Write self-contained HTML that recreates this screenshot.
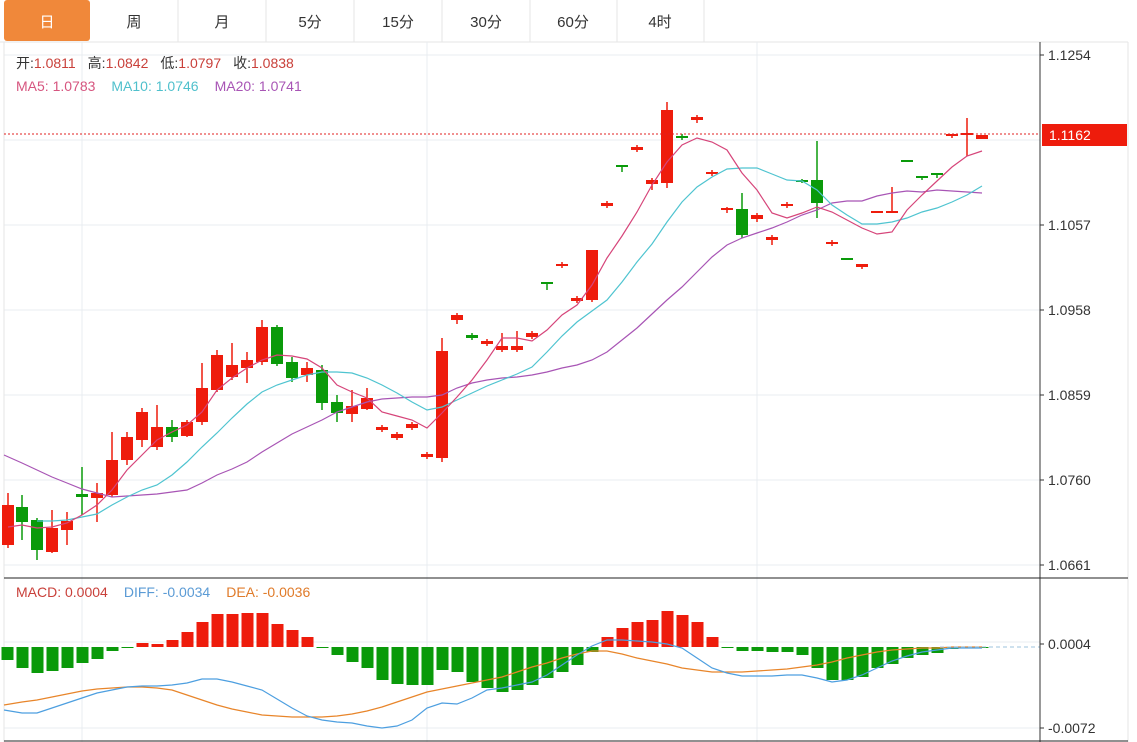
<!DOCTYPE html>
<html><head><meta charset="utf-8"><style>
body{margin:0;width:1137px;height:742px;overflow:hidden;background:#fff;font-family:"Liberation Sans","Noto Sans CJK SC",sans-serif}
svg{position:absolute;left:0;top:0}
</style></head><body>
<svg id="s" width="1137" height="742" xmlns="http://www.w3.org/2000/svg" font-family="Liberation Sans, Noto Sans CJK SC, sans-serif">
<rect x="0" y="0" width="1137" height="742" fill="#fff"/>
<line x1="0" y1="42" x2="1128" y2="42" stroke="#e6e6e6"/>
<rect x="4" y="0" width="86" height="41" rx="3" fill="#f0883a"/>
<g stroke="#e6e6e6"><line x1="178" y1="0" x2="178" y2="42"/><line x1="266" y1="0" x2="266" y2="42"/><line x1="354" y1="0" x2="354" y2="42"/><line x1="442" y1="0" x2="442" y2="42"/><line x1="530" y1="0" x2="530" y2="42"/><line x1="617" y1="0" x2="617" y2="42"/><line x1="704" y1="0" x2="704" y2="42"/><line x1="1128" y1="42" x2="1128" y2="742"/></g>
<g font-size="15" fill="#333" text-anchor="middle">
<text x="47" y="27" fill="#fff">日</text><text x="134" y="27">周</text><text x="222" y="27">月</text><text x="310" y="27">5分</text><text x="398" y="27">15分</text><text x="486" y="27">30分</text><text x="573" y="27">60分</text><text x="660" y="27">4时</text></g>
<g stroke="#e8ecf0" stroke-width="1">
<line x1="4" y1="55" x2="1040" y2="55"/><line x1="4" y1="140" x2="1040" y2="140"/><line x1="4" y1="225" x2="1040" y2="225"/><line x1="4" y1="310" x2="1040" y2="310"/><line x1="4" y1="395" x2="1040" y2="395"/><line x1="4" y1="480" x2="1040" y2="480"/><line x1="4" y1="565" x2="1040" y2="565"/>
<line x1="4" y1="642" x2="1040" y2="642"/><line x1="4" y1="728" x2="1040" y2="728"/>
<line x1="82" y1="42" x2="82" y2="742"/><line x1="427" y1="42" x2="427" y2="742"/><line x1="757" y1="42" x2="757" y2="742"/>
</g>
<line x1="4" y1="42" x2="4" y2="742" stroke="#e6e6e6"/>
<g id="g"></g>
<line x1="4" y1="134" x2="1040" y2="134" stroke="#e02020" stroke-dasharray="2,2"/>
<line x1="940" y1="647" x2="1040" y2="647" stroke="#9cc3de" stroke-dasharray="4,3"/>
<line x1="1040" y1="42" x2="1040" y2="742" stroke="#333"/>
<line x1="4" y1="578" x2="1128" y2="578" stroke="#222"/>
<line x1="4" y1="741" x2="1128" y2="741" stroke="#222"/>
<g stroke="#333"><line x1="1040" y1="55" x2="1044" y2="55"/><line x1="1040" y1="225" x2="1044" y2="225"/><line x1="1040" y1="310" x2="1044" y2="310"/><line x1="1040" y1="395" x2="1044" y2="395"/><line x1="1040" y1="480" x2="1044" y2="480"/><line x1="1040" y1="565" x2="1044" y2="565"/><line x1="1040" y1="644" x2="1044" y2="644"/><line x1="1040" y1="728" x2="1044" y2="728"/></g>
<g font-size="14" fill="#333">
<text x="1048" y="60">1.1254</text><text x="1048" y="230">1.1057</text><text x="1048" y="315">1.0958</text><text x="1048" y="400">1.0859</text><text x="1048" y="485">1.0760</text><text x="1048" y="570">1.0661</text><text x="1048" y="649">0.0004</text><text x="1048" y="733">-0.0072</text></g>
<rect x="1042" y="124" width="85" height="22" fill="#ee1c0c"/>
<text x="1049" y="140" font-size="14" fill="#fff">1.1162</text>
<g font-size="14">
<text x="16" y="68"><tspan fill="#333">开:</tspan><tspan fill="#c9403a">1.0811</tspan><tspan fill="#333" dx="12">高:</tspan><tspan fill="#c9403a">1.0842</tspan><tspan fill="#333" dx="12">低:</tspan><tspan fill="#c9403a">1.0797</tspan><tspan fill="#333" dx="12">收:</tspan><tspan fill="#c9403a">1.0838</tspan></text>
<text x="16" y="91"><tspan fill="#d6557f">MA5: 1.0783</tspan><tspan fill="#4fc0cc" dx="16">MA10: 1.0746</tspan><tspan fill="#a855b5" dx="16">MA20: 1.0741</tspan></text>
<text x="16" y="597"><tspan fill="#c9403a">MACD: 0.0004</tspan><tspan fill="#5b9bd5" dx="16">DIFF: -0.0034</tspan><tspan fill="#e07b2a" dx="16">DEA: -0.0036</tspan></text>
</g>
</svg>
<script>
var C=[[8,'r',505,545,493,548],[22,'g',507,522,495,540],[37,'g',520,550,518,560],[52,'r',528,552,510,553],[67,'r',521,530,512,545],[82,'g',494,497,467,515],[97,'r',493,498,483,522],[112,'r',460,495,432,497],[127,'r',437,460,432,465],[142,'r',412,440,408,447],[157,'r',427,447,405,450],[172,'g',427,437,420,442],[187,'r',422,436,420,437],[202,'r',388,422,363,425],[217,'r',355,390,350,392],[232,'r',365,377,343,380],[247,'r',360,368,352,383],[262,'r',327,362,320,365],[277,'g',327,364,325,366],[292,'g',362,378,357,382],[307,'r',368,375,362,382],[322,'g',370,403,365,410],[337,'g',402,413,395,422],[352,'r',406,414,390,422],[367,'r',398,409,388,410],[382,'r',427,430,425,432],[397,'r',434,438,432,440],[412,'r',424,428,422,430],[427,'r',454,457,452,459],[442,'r',351,458,338,462],[457,'r',315,320,313,324],[472,'g',335,338,333,340],[487,'r',341,344,339,346],[502,'r',346,350,333,352],[517,'r',346,350,331,352],[532,'r',333,337,331,339],[547,'g',282,284,282,290],[562,'r',264,266,262,268],[577,'r',298,301,296,303],[592,'r',250,300,250,302],[607,'r',203,206,201,208],[622,'g',165,167,165,172],[637,'r',147,150,145,152],[652,'r',180,184,178,190],[667,'r',110,183,102,188],[682,'g',136,138,134,140],[697,'r',117,120,115,123],[712,'r',172,174,170,176],[727,'r',208,210,207,213],[742,'g',209,235,193,238],[757,'r',215,219,213,222],[772,'r',237,240,235,245],[787,'r',204,206,202,208],[802,'g',180,181,179,183],[817,'g',180,203,141,218],[832,'r',242,244,240,246],[847,'g',258,259,258,259],[862,'r',264,267,264,269],[877,'r',211,213,211,213],[892,'r',211,213,187,213],[907,'g',160,162,160,162],[922,'g',176,177,176,180],[937,'g',173,175,173,178],[952,'r',134,136,134,138],[967,'r',133,135,118,156],[982,'r',135,139,135,139]];
var ma5=[8,527,22,525,37,528,52,527,67,523,82,515,97,505,112,490,127,470,142,455,157,440,172,432,187,425,202,412,217,390,232,378,247,368,262,360,277,355,292,356,307,359,322,368,337,385,352,392,367,398,382,412,397,416,412,420,427,428,442,413,457,397,472,380,487,360,502,338,517,338,532,341,547,330,562,315,577,305,592,285,607,258,622,236,637,212,652,185,667,162,682,145,697,138,712,142,727,150,742,173,757,190,772,213,787,218,802,213,817,207,832,212,847,220,862,228,877,234,892,232,907,210,922,195,937,181,952,167,967,156,982,151];
var ma10=[37,521,52,521,67,520,82,517,97,514,112,505,127,497,142,490,157,485,172,475,187,462,202,447,217,433,232,418,247,404,262,392,277,385,292,380,307,375,322,372,337,372,352,373,367,378,382,385,397,393,412,402,427,410,442,407,457,400,472,393,487,386,502,380,517,374,532,367,547,352,562,336,577,322,592,311,607,300,622,282,637,262,652,244,667,222,682,202,697,187,712,177,727,169,742,168,757,168,772,174,787,180,802,181,817,190,832,205,847,215,862,224,877,224,892,222,907,218,922,212,937,208,952,202,967,195,982,186];
var ma20=[4,455,22,463,37,470,52,477,67,483,82,489,97,493,112,497,127,496,142,495,157,494,172,492,187,490,202,483,217,475,232,469,247,462,262,452,277,443,292,434,307,427,322,420,337,412,352,407,367,402,382,399,397,398,412,397,427,397,442,395,457,388,472,383,487,380,502,378,517,377,532,375,547,372,562,368,577,365,592,360,607,352,622,340,637,328,652,314,667,300,682,287,697,272,712,257,727,245,742,238,757,233,772,228,787,222,802,215,817,210,832,203,847,201,862,201,877,196,892,193,907,191,922,192,937,190,952,191,967,192,982,193];
var mb=[660,668,673,671,668,663,659,651,648,643,644,640,632,622,614,614,613,613,624,630,637,647,655,662,668,680,684,685,685,670,672,682,688,692,690,685,678,672,665,652,637,628,622,620,611,615,622,637,647,651,651,652,652,655,668,680,680,677,668,664,658,655,653,649,647,647];
var dif=[4,710,22,713,37,713,52,708,67,703,82,698,97,693,112,690,127,687,142,686,157,686,172,685,187,683,202,679,217,679,232,682,247,686,262,690,277,699,292,708,307,716,322,720,337,722,352,723,367,726,382,728,397,726,412,720,427,708,442,703,457,704,472,698,487,690,502,688,517,685,532,682,547,675,562,665,577,655,592,646,607,640,622,640,637,641,652,642,667,644,682,648,697,658,712,668,727,673,742,676,757,676,772,676,787,675,802,675,817,678,832,682,847,680,862,675,877,668,892,661,907,656,922,652,937,650,952,648,967,648,982,648];
var dea=[4,705,22,702,37,700,52,697,67,694,82,691,97,689,112,688,127,687,142,687,157,688,172,690,187,695,202,700,217,705,232,709,247,712,262,715,277,716,292,717,307,717,322,717,337,716,352,714,367,711,382,707,397,702,412,697,427,692,442,689,457,686,472,683,487,680,502,677,517,672,532,667,547,663,562,658,577,654,592,651,607,651,622,654,637,658,652,661,667,664,682,668,697,670,712,672,727,672,742,672,757,671,772,670,787,669,802,667,817,665,832,662,847,658,862,655,877,652,892,650,907,649,922,648,937,648,952,647,967,647,982,647];
var h='';
function pl(a,c){var p=[];for(var i=0;i<a.length;i+=2)p.push(a[i]+','+a[i+1]);return '<polyline points="'+p.join(' ')+'" fill="none" stroke="'+c+'" stroke-width="1.2"/>';}
for(var i=0;i<mb.length;i++){var x=8+i*15-0.5,v=mb[i],z=647;var c=v<z?'#ee1c0c':'#0a9a0a';var t=Math.min(v,z),hh=Math.max(Math.abs(v-z),1);h+='<rect x="'+(x-6)+'" y="'+t+'" width="12" height="'+hh+'" fill="'+c+'"/>';}
h+=pl(dea,'#e8852a')+pl(dif,'#4d9fe0');
C.forEach(function(k){var c=k[1]=='r'?'#ee1c0c':'#0a9a0a';h+='<line x1="'+k[0]+'" y1="'+k[4]+'" x2="'+k[0]+'" y2="'+k[5]+'" stroke="'+c+'" stroke-width="1.5"/>';h+='<rect x="'+(k[0]-6)+'" y="'+k[2]+'" width="12" height="'+Math.max(k[3]-k[2],2)+'" fill="'+c+'"/>';});
h+=pl(ma20,'#a855b5')+pl(ma10,'#4fc4d0')+pl(ma5,'#d6457a');
document.getElementById('g').innerHTML=h;
</script>
</body></html>
